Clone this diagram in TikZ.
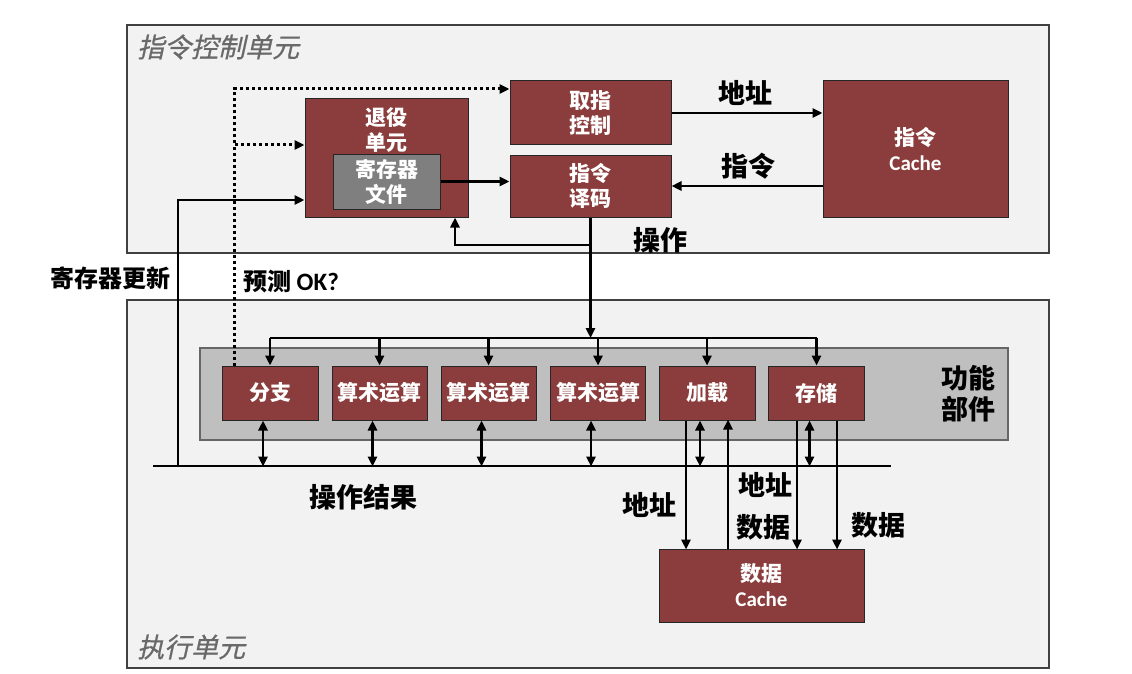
\documentclass[tikz,border=0pt]{standalone}
\usepackage{fontspec}
\newfontfamily\cjk{Noto Sans CJK SC}
\newfontfamily\cjkslant{Noto Sans CJK SC}[FakeSlant=0.22,FakeBold=0.6]
\newfontfamily\lat{Carlito}
\usetikzlibrary{arrows.meta,calc}
\definecolor{boxred}{RGB}{139,61,61}
\definecolor{framegray}{RGB}{242,242,242}
\definecolor{fugray}{RGB}{191,191,191}
\definecolor{regfill}{RGB}{127,127,127}
\definecolor{titlegray}{RGB}{105,105,105}
\tikzset{
  unitbox/.style={draw=black!85, line width=1pt, fill=boxred, text=white,
    font=\cjk\bfseries\fontsize{21}{25}\selectfont, align=center, inner sep=0pt},
  boxtext/.style={text=white, font=\cjk\bfseries\fontsize{21}{25}\selectfont,
    align=center, inner sep=0pt},
  regbox/.style={unitbox, fill=regfill},
  fubox/.style={draw=black!60, line width=1.5pt, fill=fugray},
  frame/.style={draw=black!75, line width=2pt, fill=framegray},
  tip/.style={-{Triangle[length=10pt,width=9pt]}},
  conn/.style={line width=2.5pt, tip},
  dconn/.style={line width=2.5pt, {Triangle[length=10pt,width=9pt]}-{Triangle[length=10pt,width=9pt]}},
  dotconn/.style={line width=3pt, dash pattern=on 3pt off 3pt, tip},
  wire/.style={line width=2.5pt},
  lbl/.style={font=\cjk\bfseries\fontsize{27}{31}\selectfont, inner sep=0pt, align=center},
  ttl/.style={font=\cjkslant\fontsize{27}{30}\selectfont, text=titlegray, inner sep=0pt, anchor=west},
}
\begin{document}
\begin{tikzpicture}[x=1pt,y=-1pt]
  \useasboundingbox (0,0) rectangle (1132,674);
  % the two frames
  \draw[frame] (127,25) rectangle (1049,253);
  \draw[frame] (127,300) rectangle (1049,668);
  \node[ttl] (ctrlTitle) at (137,47) {指令控制单元};
  \node[ttl] (execTitle) at (137,647) {执行单元};

  % instruction control unit
  \node[unitbox, minimum width=163pt, minimum height=118pt] (tuiyi) at (386.5,158) {};
  \node[boxtext] (tuiyiTxt) at (386.5,130) {退役\\单元};
  \node[regbox, minimum width=107pt, minimum height=55pt] (regfile) at (386.5,181.5) {寄存器\\文件};
  \node[unitbox, minimum width=161pt, minimum height=64pt] (quzhi) at (590.5,113) {取指\\控制};
  \node[unitbox, minimum width=161pt, minimum height=62pt] (yima) at (590.5,186) {指令\\译码};
  \node[unitbox, minimum width=185pt, minimum height=136pt] (icache) at (915.5,149) {指令\\{\lat Cache}};

  \draw[conn] (quzhi.east) -- (quzhi.east -| icache.west);
  \draw[conn] (icache.west |- yima.east) -- (yima.east);
  \draw[conn] (regfile.east) -- (regfile.east -| yima.west);
  \node[lbl] (addrLbl) at (745,93) {地址};
  \node[lbl] (instLbl) at (748,166) {指令};
  \node[lbl] (opLbl) at (660,240) {操作};

  % functional units
  \node[fubox, minimum width=808pt, minimum height=92pt] (fu) at (604,394) {};
  \node[lbl] (fuLbl) at (968,394) {功能\\部件};
  \node[unitbox, minimum width=96pt, minimum height=54pt] (fenzhi) at (270,393) {分支};
  \foreach \i/\x in {1/379.5,2/488.5,3/598}
    \node[unitbox, minimum width=95pt, minimum height=54pt] (suan\i) at (\x,393) {算术运算};
  \node[unitbox, minimum width=96pt, minimum height=54pt] (jiazai) at (707,393) {加载};
  \node[unitbox, minimum width=96pt, minimum height=54pt] (cunchu) at (816.5,393) {存储};
  \node[unitbox, minimum width=205pt, minimum height=73pt] (dcache) at (761.5,585.5) {数据\\{\lat Cache}};

  % operation dispatch
  \coordinate (opsplit) at (590.5,245);
  \coordinate (distL) at (270,338);
  \draw[conn] (yima.south) -- (yima.south |- distL);
  \draw[conn] (opsplit) -| ([xshift=68.5pt]tuiyi.south);
  \draw[wire] (fenzhi.north |- distL) -- (cunchu.north |- distL);
  \foreach \u in {fenzhi,suan1,suan2,suan3,jiazai,cunchu}
    \draw[conn] (\u.north |- distL) -- (\u.north);

  % result bus
  \coordinate (busL) at (153,466);
  \coordinate (busR) at (891,466);
  \draw[wire] (busL) -- (busR);
  \foreach \u in {fenzhi,suan1,suan2,suan3,jiazai,cunchu}
    \draw[dconn] ([xshift=-7pt]\u.south) -- ++(0,46);
  \node[lbl] (resLbl) at (363,497) {操作结果};

  % register update and prediction
  \coordinate (updFoot) at (178,466);
  \draw[conn] (updFoot) |- ([yshift=-42pt]tuiyi.west);
  \node[lbl, font=\cjk\bfseries\fontsize{24}{28}\selectfont] (updLbl) at (110,278) {寄存器更新};
  \coordinate (predBr) at (235,145);
  \draw[dotconn] ([xshift=13pt]fenzhi.north west) |- ([yshift=24pt]quzhi.west);
  \draw[dotconn] (predBr) -- ([yshift=13pt]tuiyi.west);
  \node[lbl, anchor=west, font=\cjk\bfseries\fontsize{24}{28}\selectfont] (predLbl) at (243,282) {预测 {\lat\fontsize{25}{28}\selectfont OK?}};

  % load and store paths
  \draw[conn] ([xshift=-21pt]jiazai.south) -- ++(0,129);
  \draw[conn] ([xshift=-33.5pt]dcache.north) -- ++(0,-129);
  \draw[conn] ([xshift=-19.5pt]cunchu.south) -- ++(0,129);
  \draw[conn] ([xshift=20.5pt]cunchu.south) -- ++(0,129);
  \node[lbl] (ldAddrLbl) at (649,505) {地址};
  \node[lbl] (stAddrLbl) at (765,485) {地址};
  \node[lbl] (stDataLbl) at (763,527) {数据};
  \node[lbl] (rdDataLbl) at (878,525) {数据};
\end{tikzpicture}
\end{document}
